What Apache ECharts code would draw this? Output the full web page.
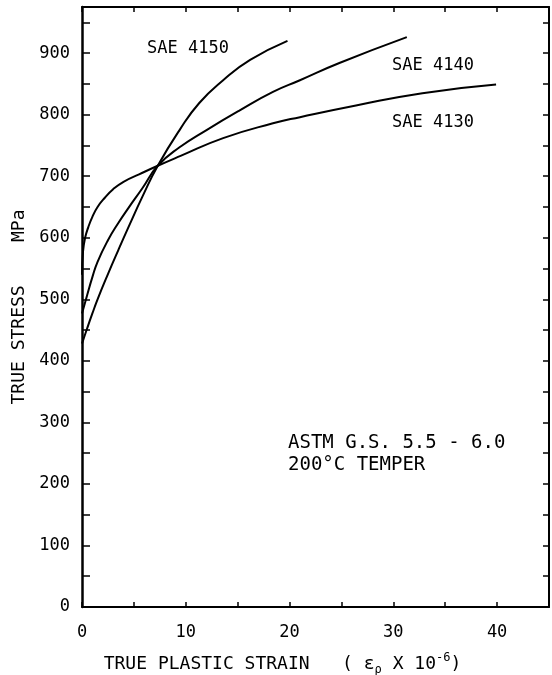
<!DOCTYPE html>
<html>
<head>
<meta charset="utf-8">
<script src="https://cdn.jsdelivr.net/npm/echarts@6/dist/echarts.min.js"></script>
<style>
  html, body { margin: 0; padding: 0; background: #fff; }
  #chart { width: 552px; height: 675px; }
</style>
</head>
<body>
<div id="chart"></div>
<script>
// values: strain (x 10^-6) and true stress (MPa)
const strain4130 = [0, 0.1, 0.3, 0.6, 1, 1.5, 2.2, 3, 4, 5.5, 7.3, 9.5, 13.6, 18.4, 21, 26.4, 32.8, 39.9]
const stress4130 = [540, 578, 600, 617, 634, 650, 665, 679, 691, 703, 717, 733, 762, 786, 796, 815, 835, 849]

const strain4140 = [0, 0.5, 1, 1.5, 2.5, 3.5, 4.5, 5.8, 7.3, 9.4, 12, 15.2, 18.4, 21, 24.8, 31.3]
const stress4140 = [477, 507, 536, 561, 596, 624, 649, 680, 717, 747, 775, 807, 837, 856, 884, 926]

const strain4150 = [0, 0.5, 1, 1.5, 2.5, 3.5, 4.5, 5.8, 7.3, 9.4, 11.3, 13.6, 16.2, 19.8]
const stress4150 = [428, 453, 477, 500, 541, 580, 618, 666, 717, 775, 819, 856, 889, 920]

const xTicks = [0, 10, 20, 30, 40]
const yTicks = [0, 100, 200, 300, 400, 500, 600, 700, 800, 900]

const FONT = 'DejaVu Sans Mono'

function zip(xs, ys) {
  return xs.map((x, i) => [x, ys[i]])
}

function curve(name, xs, ys) {
  return {
    name: name,
    type: 'line',
    data: zip(xs, ys),
    smooth: 0.5,
    showSymbol: false,
    symbol: 'none',
    silent: true,
    lineStyle: { color: '#000', width: 2 },
    xAxisIndex: 0,
    yAxisIndex: 0
  }
}

const lineStyle = { color: '#000', width: 2 }
const tickStyle = { color: '#000', width: 1.5 }

const chart = echarts.init(document.getElementById('chart'))

const option = {
  backgroundColor: '#fff',
  animation: false,
  grid: { left: 82, right: 3, top: 7, bottom: 68, containLabel: false, outerBoundsMode: 'none' },
  xAxis: [
    {
      type: 'value', min: 0, max: 45, interval: 5, position: 'bottom',
      axisLine: { onZero: false, lineStyle: lineStyle },
      axisTick: { inside: true, length: 5, lineStyle: tickStyle },
      splitLine: { show: false },
      axisLabel: {
        margin: 17, color: '#000', fontFamily: FONT, fontSize: 17,
        formatter: v => xTicks.includes(v) ? String(v) : ''
      },
      name: '{a|TRUE PLASTIC STRAIN   ( ε}{sub|ρ}{a| X 10}{sup|-6}{a|)}',
      nameLocation: 'middle',
      nameGap: 45,
      nameTextStyle: {
        padding: [0, 66, 0, 0],
        rich: {
          a: { fontFamily: FONT, fontSize: 18, color: '#000', lineHeight: 24 },
          sub: { fontFamily: FONT, fontSize: 12, color: '#000', verticalAlign: 'bottom', lineHeight: 14 },
          sup: { fontFamily: FONT, fontSize: 12, color: '#000', verticalAlign: 'top', lineHeight: 14 }
        }
      }
    },
    {
      type: 'value', min: 0, max: 45, interval: 5, position: 'top',
      axisLine: { onZero: false, lineStyle: lineStyle },
      axisTick: { inside: true, length: 5, lineStyle: tickStyle },
      splitLine: { show: false },
      axisLabel: { show: false }
    }
  ],
  yAxis: [
    {
      type: 'value', min: 0, max: 975, interval: 50, position: 'left',
      axisLine: { onZero: false, lineStyle: { color: '#000', width: 2.5 } },
      axisTick: { inside: true, length: 8, lineStyle: tickStyle },
      splitLine: { show: false },
      axisLabel: {
        margin: 12, color: '#000', fontFamily: FONT, fontSize: 17,
        formatter: v => yTicks.includes(v) ? String(v) : ''
      },
      name: 'TRUE STRESS    MPa',
      nameLocation: 'middle',
      nameRotate: 90,
      nameGap: 42,
      nameTextStyle: { fontFamily: FONT, fontSize: 18, color: '#000' }
    },
    {
      type: 'value', min: 0, max: 975, interval: 50, position: 'right',
      axisLine: { onZero: false, lineStyle: lineStyle },
      axisTick: { inside: true, length: 6, lineStyle: tickStyle },
      splitLine: { show: false },
      axisLabel: { show: false }
    }
  ],
  series: [
    curve('SAE 4130', strain4130, stress4130),
    curve('SAE 4140', strain4140, stress4140),
    curve('SAE 4150', strain4150, stress4150)
  ],
  graphic: [
    { type: 'text', left: 147, top: 40, style: { text: 'SAE 4150', font: '17px "' + FONT + '"', fill: '#000' } },
    { type: 'text', left: 392, top: 57, style: { text: 'SAE 4140', font: '17px "' + FONT + '"', fill: '#000' } },
    { type: 'text', left: 392, top: 114, style: { text: 'SAE 4130', font: '17px "' + FONT + '"', fill: '#000' } },
    { type: 'text', left: 288, top: 434, style: { text: 'ASTM G.S. 5.5 - 6.0', font: '19px "' + FONT + '"', fill: '#000' } },
    { type: 'text', left: 288, top: 456, style: { text: '200°C TEMPER', font: '19px "' + FONT + '"', fill: '#000' } }
  ]
}

chart.setOption(option)
</script>
</body>
</html>
